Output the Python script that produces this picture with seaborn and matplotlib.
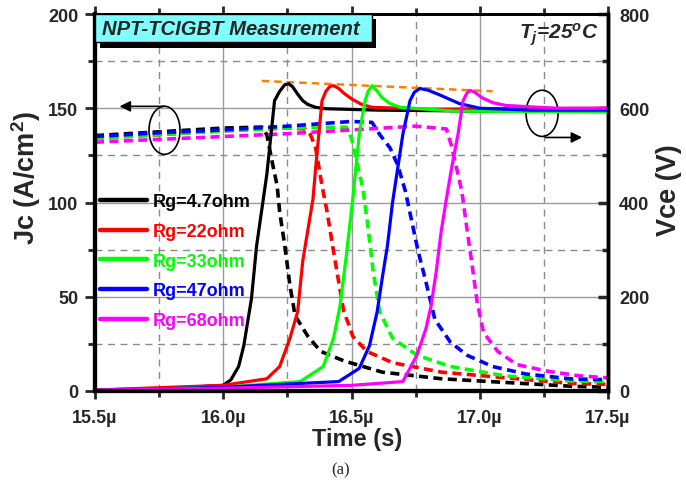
import numpy as np
import pandas as pd
import matplotlib
matplotlib.use("Agg")
import matplotlib.pyplot as plt
import seaborn as sns
from matplotlib.patches import Ellipse, Rectangle
from matplotlib.lines import Line2D
from matplotlib.ticker import MultipleLocator, FuncFormatter

# ---------------- data (time in microseconds) ----------------
labels = ["Rg=4.7ohm", "Rg=22ohm", "Rg=33ohm", "Rg=47ohm", "Rg=68ohm"]
colors = ["#000000", "#FF0000", "#00FF00", "#0000FF", "#FF00FF"]

# Vce (V), solid lines, right axis
t_v_47 = [15.5, 15.8, 16.0, 16.03, 16.06, 16.08, 16.11, 16.13, 16.17, 16.2, 16.22, 16.24, 16.255, 16.27, 16.29, 16.31, 16.33, 16.36, 16.4, 16.6, 17.0, 17.5]
v_47 = [2, 6, 12, 24, 52, 96, 196, 308, 460, 616, 636, 650, 652, 646, 630, 616, 608, 602, 599, 596, 594, 594]
t_v_22 = [15.5, 16.0, 16.17, 16.22, 16.26, 16.29, 16.31, 16.35, 16.36, 16.385, 16.4, 16.415, 16.43, 16.45, 16.47, 16.5, 16.54, 16.58, 16.8, 17.5]
v_22 = [2, 12, 26, 52, 112, 168, 276, 408, 472, 616, 636, 646, 648, 642, 632, 620, 608, 602, 598, 600]
t_v_33 = [15.5, 16.0, 16.3, 16.39, 16.43, 16.455, 16.48, 16.505, 16.53, 16.553, 16.565, 16.58, 16.6, 16.62, 16.65, 16.69, 16.9, 17.5]
v_33 = [1, 8, 20, 52, 112, 180, 288, 408, 544, 616, 636, 648, 636, 622, 610, 602, 594, 592]
t_v_47b = [15.5, 16.0, 16.45, 16.53, 16.57, 16.6, 16.62, 16.64, 16.66, 16.68, 16.7, 16.728, 16.745, 16.767, 16.8, 16.845, 16.92, 17.0, 17.2, 17.5]
v_47b = [1, 8, 20, 48, 96, 168, 240, 308, 400, 472, 544, 616, 634, 642, 638, 628, 610, 600, 596, 596]
t_v_68 = [15.5, 16.0, 16.5, 16.7, 16.72, 16.755, 16.79, 16.81, 16.83, 16.85, 16.87, 16.89, 16.915, 16.935, 16.95, 16.962, 16.98, 17.01, 17.05, 17.1, 17.3, 17.5]
v_68 = [2, 6, 12, 20, 40, 76, 132, 180, 252, 340, 408, 472, 544, 616, 632, 638, 634, 622, 612, 606, 600, 600]

# Jc (A/cm^2), dashed lines, left axis
t_j_47 = [15.5, 15.75, 16.0, 16.15, 16.17, 16.19, 16.21, 16.22, 16.24, 16.26, 16.28, 16.33, 16.38, 16.47, 16.62, 16.85, 17.13, 17.36, 17.5]
j_47 = [135.5, 137.5, 139.5, 140, 136, 122, 109, 95, 77, 56, 40, 29, 21, 16, 10, 6.5, 4.3, 2.5, 2]
t_j_22 = [15.5, 15.75, 16.0, 16.25, 16.32, 16.34, 16.36, 16.385, 16.405, 16.43, 16.455, 16.47, 16.49, 16.505, 16.56, 16.66, 16.85, 17.1, 17.36, 17.5]
j_22 = [134, 136, 138, 139.5, 139, 136, 129, 109, 95, 74, 54, 42, 35, 29, 21, 15, 10, 7, 4, 3.5]
t_j_33 = [15.5, 15.75, 16.0, 16.25, 16.48, 16.5, 16.52, 16.545, 16.565, 16.585, 16.61, 16.66, 16.755, 16.885, 17.1, 17.36, 17.5]
j_33 = [134, 136, 138, 139.5, 140, 134, 122, 107, 86, 63, 42, 28, 19, 13, 8, 5.3, 5]
t_j_47b = [15.5, 15.75, 16.0, 16.25, 16.5, 16.58, 16.61, 16.65, 16.68, 16.71, 16.735, 16.76, 16.79, 16.825, 16.885, 16.95, 17.05, 17.18, 17.36, 17.5]
j_47b = [135, 137, 138.5, 140.5, 143, 142.5, 136, 129, 120, 106, 90, 74, 58, 38, 26, 19, 13, 9, 6.4, 6]
t_j_68 = [15.5, 15.75, 16.0, 16.25, 16.5, 16.75, 16.87, 16.89, 16.93, 16.95, 16.97, 16.99, 17.015, 17.07, 17.145, 17.26, 17.39, 17.5]
j_68 = [132, 133.5, 135, 136.5, 138.5, 140.5, 139, 130, 106, 86, 67, 47, 31, 21, 14, 10.6, 8, 7]

# orange peak-trend line (left-axis units)
t_orange = [16.15, 17.05]
y_orange = [164.5, 159]

vce_t = [t_v_47, t_v_22, t_v_33, t_v_47b, t_v_68]
vce_v = [v_47, v_22, v_33, v_47b, v_68]
jc_t = [t_j_47, t_j_22, t_j_33, t_j_47b, t_j_68]
jc_v = [j_47, j_22, j_33, j_47b, j_68]

# ---------------- style ----------------
sns.set_theme(style="white")
plt.rcParams["font.family"] = ["Liberation Sans", "DejaVu Sans"]
plt.rcParams["font.weight"] = "bold"
plt.rcParams["axes.labelweight"] = "bold"
plt.rcParams["mathtext.fontset"] = "custom"
plt.rcParams["mathtext.rm"] = "Liberation Sans:bold"
plt.rcParams["mathtext.it"] = "Liberation Sans:bold:italic"
plt.rcParams["mathtext.bf"] = "Liberation Sans:bold"

W, H = 686, 485
fig = plt.figure(figsize=(W / 100, H / 100), dpi=100)
L, R, T, B = 95, 608, 15, 392
ax = fig.add_axes([L / W, 1 - B / H, (R - L) / W, (B - T) / H])
ax2 = ax.twinx()

def axx(px):
    return (px - L) / (R - L)

def axy(py):
    return (B - py) / (B - T)

# grid
ax.xaxis.set_major_locator(MultipleLocator(0.5))
ax.xaxis.set_minor_locator(MultipleLocator(0.25))
ax.yaxis.set_major_locator(MultipleLocator(50))
ax.yaxis.set_minor_locator(MultipleLocator(25))
ax2.yaxis.set_major_locator(MultipleLocator(200))
ax2.yaxis.set_minor_locator(MultipleLocator(100))
ax.grid(which="major", color="#9a9a9a", lw=1.0, ls="-")
ax.grid(which="minor", color="#8a8a8a", lw=1.0, ls=(0, (5, 4)))
ax.set_axisbelow(True)

# Jc dashed curves
for t, v, c in zip(jc_t, jc_v, colors):
    d = pd.DataFrame({"t": t, "jc": v})
    sns.lineplot(data=d, x="t", y="jc", ax=ax, color=c, lw=2.6,
                 linestyle=(0, (2.5, 1.5)), estimator=None, sort=False, legend=False)

# orange trend line
sns.lineplot(x=t_orange, y=y_orange, ax=ax, color="#FF8000", lw=1.8,
             linestyle=(0, (3, 2)), estimator=None, sort=False, legend=False)

# Vce solid curves
for t, v, c in zip(vce_t, vce_v, colors):
    d = pd.DataFrame({"t": t, "vce": v})
    sns.lineplot(data=d, x="t", y="vce", ax=ax2, color=c, lw=2.3,
                 estimator=None, sort=False, legend=False)

ax.set_xlim(15.5, 17.5)
ax.set_ylim(0, 200)
ax2.set_ylim(0, 800)

# ticks
ax.xaxis.set_major_formatter(FuncFormatter(lambda v, p: f"{v:.1f}\u00b5"))
ax.tick_params(axis="x", which="both", bottom=True, top=True, direction="out",
               labelsize=13, pad=7, width=2)
ax.tick_params(axis="x", which="major", length=6)
ax.tick_params(axis="x", which="minor", length=4)
ax.tick_params(axis="y", which="both", left=True, right=False, direction="out",
               labelsize=13, pad=5, width=2)
ax.tick_params(axis="y", which="major", length=7)
ax.tick_params(axis="y", which="minor", length=5)
ax2.tick_params(axis="y", which="both", right=True, left=False, direction="in",
                labelsize=13, pad=8, width=2.5)
ax2.tick_params(axis="y", which="major", length=7)
ax2.tick_params(axis="y", which="minor", length=4)
for lbl in ax.get_xticklabels() + ax.get_yticklabels() + ax2.get_yticklabels():
    lbl.set_fontweight("bold")

for a in (ax, ax2):
    for sp in a.spines.values():
        sp.set_color("black")
    a.spines["left"].set_linewidth(3)
    a.spines["bottom"].set_linewidth(3)
    a.spines["top"].set_linewidth(2)
    a.spines["right"].set_linewidth(2.5)

# axis labels
ax.set_xlabel("Time (s)", fontsize=17, fontweight="bold")
ax.xaxis.set_label_coords(axx(357), axy(428))
ax.set_ylabel("Jc (A/cm$^2$)", fontsize=19.5, fontweight="bold")
ax.yaxis.set_label_coords(axx(43), axy(178))
ax2.set_ylabel("Vce (V)", fontsize=19.5, fontweight="bold", rotation=90)
ax2.yaxis.set_label_coords(axx(656), axy(190))
ax2.yaxis.label.set_va("top")

# legend
handles = [Line2D([0], [0], color=c, lw=3.2) for c in colors]
leg = ax2.legend(handles, labels, loc="upper left", bbox_to_anchor=(0.0, axy(189)),
                 borderaxespad=0, borderpad=0.3, frameon=False,
                 handlelength=2.6, handletextpad=0.3, labelspacing=0.7,
                 prop={"weight": "bold", "size": 13}, labelcolor=colors)

# title box with shadow
ax2.add_patch(Rectangle((axx(100), axy(49)), axx(376) - axx(100), axy(20) - axy(49),
                        transform=ax2.transAxes, facecolor="black", edgecolor="none",
                        clip_on=False, zorder=10))
ax2.add_patch(Rectangle((axx(95), axy(43)), axx(372) - axx(95), axy(15) - axy(43),
                        transform=ax2.transAxes, facecolor="#80FFFF", edgecolor="black",
                        lw=1.0, clip_on=False, zorder=11))
ax2.text(axx(102), axy(29.5), "NPT-TCIGBT Measurement", transform=ax2.transAxes,
         fontsize=14.6, fontweight="bold", fontstyle="italic", ha="left", va="center", zorder=12)

# T_j annotation
ax2.text(axx(599), axy(35), r"$T_j$=25$^o$C", transform=ax2.transAxes,
         fontsize=15, fontweight="bold", fontstyle="italic", ha="right", va="center", zorder=12)

# ellipses and arrows (left-axis data coords)
ax.add_patch(Ellipse((15.771, 138.3), 0.121, 25.5, fill=False, edgecolor="black", lw=1.2, zorder=20))
ax.add_patch(Ellipse((17.243, 147.3), 0.125, 24.5, fill=False, edgecolor="black", lw=1.2, zorder=20))
ax2.annotate("", xy=(15.585, 604), xytext=(15.78, 604),
             arrowprops=dict(arrowstyle="-|>", color="black", lw=1.2, mutation_scale=16), zorder=20)
ax2.annotate("", xy=(17.41, 538), xytext=(17.245, 538),
             arrowprops=dict(arrowstyle="-|>", color="black", lw=1.2, mutation_scale=16), zorder=20)

# caption
fig.text(341 / W, 1 - 470 / H, "(a)", fontsize=12, fontweight="normal",
         family=["Liberation Serif", "DejaVu Serif"], ha="center", va="center")

fig.savefig("out.png", dpi=100)
